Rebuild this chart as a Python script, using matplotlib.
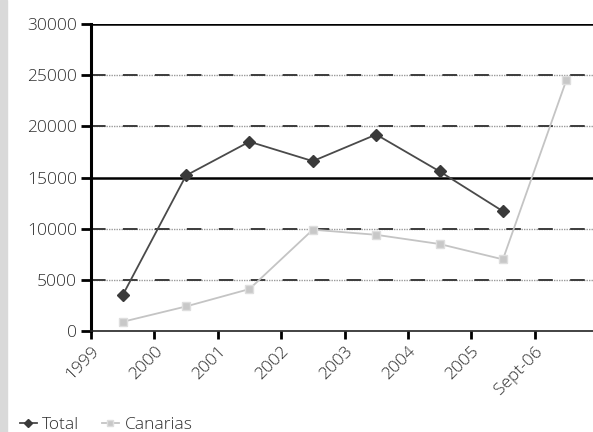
import numpy as np
import matplotlib.pyplot as plt
from matplotlib.patches import Rectangle

years = ['1999', '2000', '2001', '2002', '2003', '2004', '2005', 'Sept-06']
total = [3500, 15200, 18500, 16600, 19200, 15600, 11700]
canarias = [900, 2400, 4100, 9900, 9400, 8500, 7000, 24500]
y_ticks = [0, 5000, 10000, 15000, 20000, 25000, 30000]

plt.rcParams['font.family'] = ['Open Sans', 'DejaVu Sans']
plt.rcParams['font.weight'] = 'light'
plt.rcParams['lines.scale_dashes'] = False
text_color = '#2e2e2e'
fs = 12.5

fig = plt.figure(figsize=(5.93, 4.32), dpi=100)
fig.patches.append(Rectangle((0, 0), 7 / 593, 1, transform=fig.transFigure,
                             color='#d9d9d9', zorder=0))
ax = fig.add_axes([91 / 593, (432 - 331) / 432, 507 / 593, 307 / 432])

x_total = np.arange(len(total)) + 0.5
x_can = np.arange(len(canarias)) + 0.5

# gridlines: solid at 15000/30000, long dash + dotted run elsewhere
for v in y_ticks[1:]:
    if v in (15000, 30000):
        ax.axhline(v, color='black', lw=1.8, zorder=1)
    else:
        ax.axhline(v, color='#9a9a9a', lw=1.0, ls=(0, (1.0, 0.8)), zorder=1)
        ax.axhline(v, color='#3c3c3c', lw=1.4, ls=(0, (10.5, 12.5)), zorder=1)

ax.plot(x_total, total, color='#4a4a4a', lw=1.3, marker='D', ms=6,
        mfc='#3a3a3a', mec='#3a3a3a', label='Total', zorder=3)
ax.plot(x_can, canarias, color='#c4c4c4', lw=1.3, marker='s', ms=6,
        mfc='#c8c8c8', mec='#dedede', label='Canarias', zorder=2)

ax.set_xlim(0, 8)
ax.set_ylim(0, 30000)
ax.set_yticks(y_ticks)
ax.set_yticklabels([str(v) for v in y_ticks], color=text_color, fontsize=fs)
ax.set_xticks(np.arange(len(years)))
ax.set_xticklabels(years, rotation=45, ha='right', rotation_mode='anchor',
                   color=text_color, fontsize=fs)

for side in ('top', 'right'):
    ax.spines[side].set_visible(False)
ax.spines['left'].set_linewidth(2.2)
ax.spines['left'].set_color('black')
ax.spines['bottom'].set_linewidth(1.2)
ax.spines['bottom'].set_color('#222222')
ax.tick_params(axis='y', length=7, width=2, color='black', pad=3)
ax.tick_params(axis='x', length=6, width=2, color='black', pad=3)

fig.legend(loc='lower left', bbox_to_anchor=(10 / 593, -0.025), ncol=2,
           frameon=False, fontsize=fs, labelcolor=text_color,
           handlelength=1.0, handletextpad=0.3, columnspacing=1.3,
           borderaxespad=0.15, markerscale=0.7)

fig.savefig('out.png', dpi=100)
